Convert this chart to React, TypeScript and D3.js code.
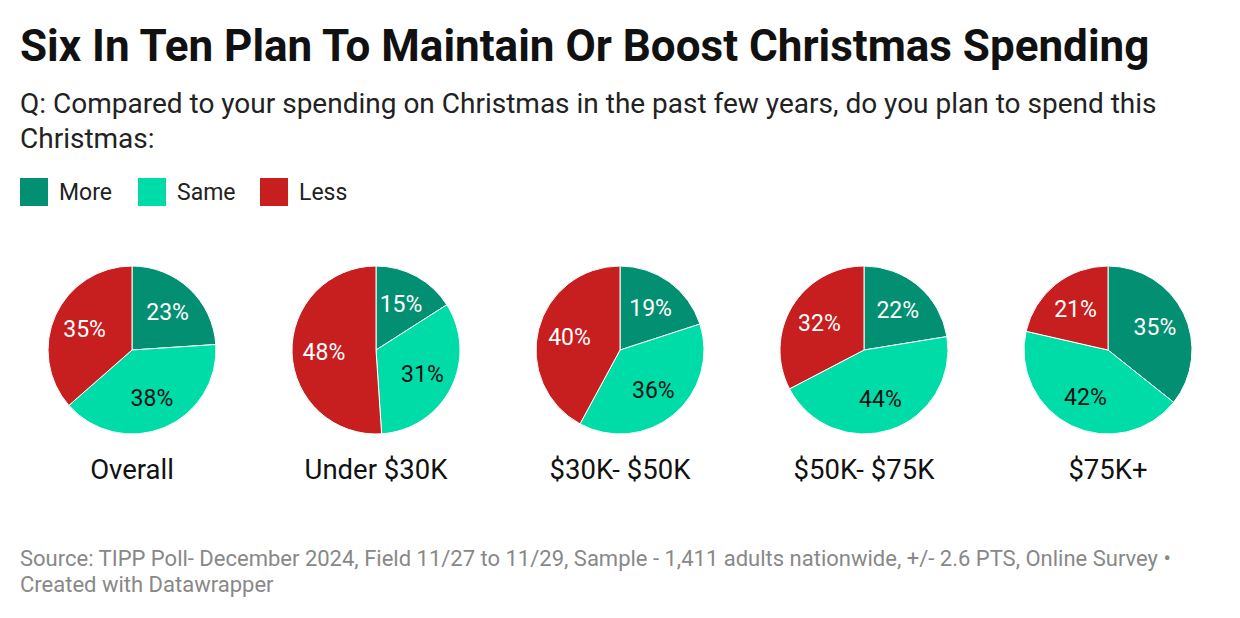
import * as d3 from 'd3';

const groups = ['Overall', 'Under $30K', '$30K- $50K', '$50K- $75K', '$75K+'];
const keys = ['More', 'Same', 'Less'];
const more = [23, 15, 19, 22, 35];
const same = [38, 31, 36, 44, 42];
const less = [35, 48, 40, 32, 21];

const colors: Record<string, string> = { More: '#038f72', Same: '#00dca7', Less: '#c71e1f' };
const labelColors: Record<string, string> = { More: '#fff', Same: '#111', Less: '#fff' };

const width = 1240;
const height = 618;
const font = 'Roboto, "Noto Sans", sans-serif';

export default function App() {
	const x = d3
		.scalePoint<string>()
		.domain(groups)
		.range([132, 1108]);
	const cy = 350;
	const r = 84;
	const pie = d3
		.pie<{ key: string; value: number }>()
		.sort(null)
		.value((d) => d.value);
	const arc = d3.arc<d3.PieArcDatum<{ key: string; value: number }>>().innerRadius(0).outerRadius(r);
	const labelArc = d3
		.arc<d3.PieArcDatum<{ key: string; value: number }>>()
		.innerRadius(r * 0.62)
		.outerRadius(r * 0.62);

	const legendX = [20, 138, 260];

	return (
		<svg width={width} height={height} style={{ position: 'absolute', left: 0, top: 0, fontFamily: font }}>
			<rect width={width} height={height} fill="#fff" />
			<text x={20} y={61} fontSize={44} fontWeight={700} fill="#111">
				Six In Ten Plan To Maintain Or Boost Christmas Spending
			</text>
			<text x={20} y={113} fontSize={28} fill="#222">
				Q: Compared to your spending on Christmas in the past few years, do you plan to spend this
			</text>
			<text x={20} y={148} fontSize={28} fill="#222">
				Christmas:
			</text>
			{keys.map((k, i) => (
				<g key={k}>
					<rect x={legendX[i]} y={178} width={28} height={28} fill={colors[k]} />
					<text x={legendX[i] + 39} y={200} fontSize={23} fill="#222">
						{k}
					</text>
				</g>
			))}
			{groups.map((g, gi) => {
				const data = [
					{ key: 'More', value: more[gi] },
					{ key: 'Same', value: same[gi] },
					{ key: 'Less', value: less[gi] },
				];
				const arcs = pie(data);
				return (
					<g key={g} transform={`translate(${x(g)},${cy})`}>
						{arcs.map((a) => (
							<path key={a.data.key} d={arc(a)!} fill={colors[a.data.key]} stroke="#fff" strokeWidth={1} />
						))}
						{arcs.map((a) => {
							const [lx, ly] = labelArc.centroid(a);
							return (
								<text
									key={a.data.key + 'l'}
									x={lx}
									y={ly}
									dy="0.35em"
									textAnchor="middle"
									fontSize={23}
									fill={labelColors[a.data.key]}
								>
									{a.data.value}%
								</text>
							);
						})}
						<text y={129} textAnchor="middle" fontSize={27.5} fill="#111">
							{g}
						</text>
					</g>
				);
			})}
			<text x={20} y={566} fontSize={22} fill="#888">
				Source: TIPP Poll- December 2024, Field 11/27 to 11/29, Sample - 1,411 adults nationwide, +/- 2.6 PTS, Online Survey •
			</text>
			<text x={20} y={592} fontSize={22} fill="#888">
				Created with Datawrapper
			</text>
		</svg>
	);
}
